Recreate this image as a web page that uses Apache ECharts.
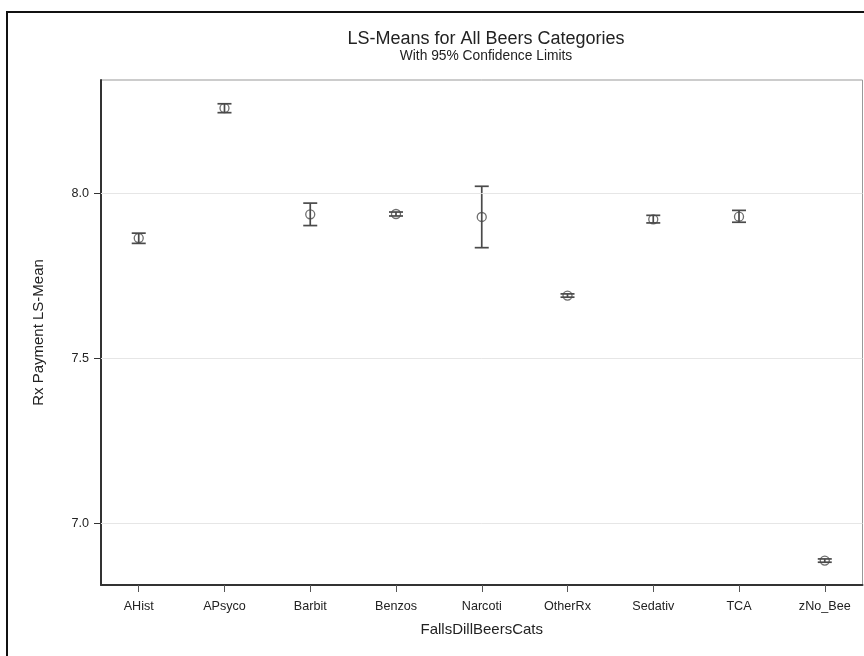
<!DOCTYPE html>
<html>
<head>
<meta charset="utf-8">
<script src="https://cdn.jsdelivr.net/npm/echarts@6/dist/echarts.min.js"></script>
<style>
html,body{margin:0;padding:0;background:#fff;}
#chart{width:864px;height:656px;}
</style>
</head>
<body>
<div id="chart"></div>
<script>
// ---- data ----
const categories = ['AHist','APsyco','Barbit','Benzos','Narcoti','OtherRx','Sedativ','TCA','zNo_Bee'];
const lsMean = [7.864, 8.258, 7.936, 7.937, 7.928, 7.690, 7.921, 7.929, 6.887];
const lowerCL = [7.848, 8.244, 7.902, 7.931, 7.835, 7.685, 7.910, 7.912, 6.882];
const upperCL = [7.879, 8.271, 7.970, 7.943, 8.021, 7.695, 7.933, 7.948, 6.892];
const yTicks = [7.0, 7.5, 8.0];
const titleText = 'LS-Means for All Beers Categories';
const subtitleText = 'With 95% Confidence Limits';
const xName = 'FallsDillBeersCats';
const yName = 'Rx Payment LS-Mean';

const FONT = "'Liberation Sans', Arial, sans-serif";
const catIdx = categories.map((c, i) => i);

const chart = echarts.init(document.getElementById('chart'), null, {renderer: 'canvas'});
const option = {
  backgroundColor: '#fff',
  animation: false,
  title: [
    {text: titleText, left: 481, top: 25, textAlign: 'center',
     textStyle: {fontFamily: FONT, fontSize: 18, fontWeight: 'normal', color: '#222'}},
    {text: subtitleText, left: 481, top: 44, textAlign: 'center',
     textStyle: {fontFamily: FONT, fontSize: 13.8, fontWeight: 'normal', color: '#222'}}
  ],
  graphic: [
    {type: 'rect', shape: {x: 7, y: 12, width: 880, height: 680},
     style: {fill: 'none', stroke: '#111', lineWidth: 2}, silent: true}
  ],
  grid: {left: 101, top: 80, right: 1.5, bottom: 71, show: true,
         borderColor: '#999', borderWidth: 1, containLabel: false},
  xAxis: {
    type: 'value', min: -0.44, max: 8.44,
    name: xName, nameLocation: 'middle', nameGap: 37,
    nameTextStyle: {fontFamily: FONT, fontSize: 15, color: '#222'},
    axisLine: {show: true, onZero: false, lineStyle: {color: '#333', width: 2}},
    axisTick: {show: true, customValues: catIdx, length: 7, lineStyle: {color: '#555'}},
    axisLabel: {customValues: catIdx, formatter: v => categories[Math.round(v)],
                fontFamily: FONT, fontSize: 12.6, color: '#222', margin: 15},
    splitLine: {show: false}
  },
  yAxis: {
    type: 'value', min: 6.813, max: 8.343,
    name: yName, nameLocation: 'middle', nameGap: 55, nameRotate: 90,
    nameTextStyle: {fontFamily: FONT, fontSize: 15, color: '#222'},
    axisLine: {show: true, onZero: false, lineStyle: {color: '#333', width: 2}},
    axisTick: {show: true, customValues: yTicks, length: 7, lineStyle: {color: '#333'}},
    axisLabel: {customValues: yTicks, formatter: v => v.toFixed(1),
                fontFamily: FONT, fontSize: 12.6, color: '#222', margin: 12},
    splitLine: {show: false}
  },
  series: [
    {
      type: 'line', data: [], silent: true, z: 1,
      markLine: {
        silent: true, symbol: ['none', 'none'], label: {show: false},
        lineStyle: {color: '#e6e6e6', width: 1, type: 'solid'},
        data: yTicks.map(v => ({yAxis: v}))
      }
    },
    {
      type: 'custom', z: 3,
      data: categories.map((c, i) => [i, lowerCL[i], upperCL[i]]),
      renderItem: function (params, api) {
        const x = api.value(0);
        const lo = api.coord([x, api.value(1)]);
        const hi = api.coord([x, api.value(2)]);
        const hw = 7;
        const st = {stroke: '#4a4a4a', lineWidth: 1.7};
        return {
          type: 'group',
          children: [
            {type: 'line', shape: {x1: lo[0], y1: lo[1], x2: hi[0], y2: hi[1]}, style: st},
            {type: 'line', shape: {x1: lo[0] - hw, y1: lo[1], x2: lo[0] + hw, y2: lo[1]}, style: st},
            {type: 'line', shape: {x1: hi[0] - hw, y1: hi[1], x2: hi[0] + hw, y2: hi[1]}, style: st}
          ]
        };
      }
    },
    {
      type: 'scatter', z: 4,
      data: categories.map((c, i) => [i, lsMean[i]]),
      symbol: 'circle', symbolSize: 9,
      itemStyle: {color: 'rgba(255,255,255,0)', borderColor: '#4a4a4a', borderWidth: 1.3}
    }
  ]
};
chart.setOption(option);
</script>
</body>
</html>
